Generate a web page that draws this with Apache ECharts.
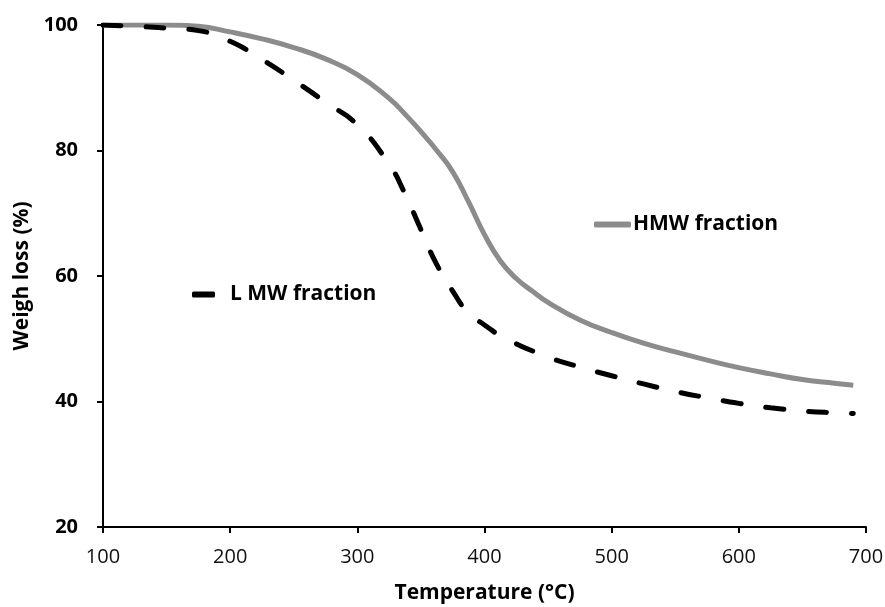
<!DOCTYPE html>
<html>
<head>
<meta charset="utf-8">
<script src="https://cdn.jsdelivr.net/npm/echarts@6/dist/echarts.min.js"></script>
<style>
  html, body { margin: 0; padding: 0; background: #fff; }
  #tga { width: 885px; height: 607px; }
</style>
</head>
<body>
<div id="tga"></div>
<script>
// temperature (°C) and weight (%)
const hmwTemp = [100, 125, 150, 175, 200, 225, 250, 275, 300, 325, 337.5, 350, 362.5, 375, 387.5, 400, 412.5, 425, 437.5, 450, 475, 500, 525, 550, 575, 600, 625, 650, 675, 690];
const hmwWeight = [100, 100, 100, 99.8, 98.9, 97.8, 96.4, 94.6, 92.1, 88.3, 85.8, 83.0, 80.0, 76.6, 71.8, 66.6, 62.4, 59.6, 57.6, 55.8, 53.0, 51.0, 49.3, 47.9, 46.6, 45.4, 44.4, 43.5, 42.9, 42.6];

const lmwTemp = [100, 125, 150, 175, 200, 225, 250, 275, 300, 325, 337, 350, 362, 375, 387, 400, 416, 450, 475, 500, 525, 550, 575, 600, 625, 650, 675, 690];
const lmwWeight = [100, 99.8, 99.5, 99.1, 97.4, 94.5, 91.2, 87.7, 84.1, 77.8, 73.3, 67.4, 62.0, 57.6, 54.2, 52.2, 50.1, 47.1, 45.5, 44.1, 42.8, 41.6, 40.6, 39.7, 39.0, 38.5, 38.2, 38.1];

const xTicks = { min: 100, max: 700, step: 100 };
const yTicks = { min: 20, max: 100, step: 20 };

function pairs(xs, ys) {
  return xs.map((x, i) => [x, ys[i]]);
}

const chart = echarts.init(document.getElementById('tga'));

const axisFont = 'Open Sans';

chart.setOption({
  animation: false,
  grid: { left: 103, right: 19, top: 25, bottom: 80, outerBoundsMode: 'none' },
  legend: [
    {
      data: ['HMW fraction'],
      left: 589,
      top: 209,
      icon: 'roundRect',
      itemWidth: 37,
      itemHeight: 6,
      selectedMode: false,
      textStyle: { color: '#000', fontWeight: 'bold', fontSize: 21, fontFamily: axisFont, padding: [0, 0, 0, -3] },
    },
    {
      data: ['L MW fraction'],
      left: 187,
      top: 279,
      icon: 'roundRect',
      itemWidth: 23,
      itemHeight: 6,
      selectedMode: false,
      textStyle: { color: '#000', fontWeight: 'bold', fontSize: 21, fontFamily: axisFont, padding: [0, 0, 0, 10] },
    },
  ],
  xAxis: {
    type: 'value',
    min: xTicks.min,
    max: xTicks.max,
    interval: xTicks.step,
    name: 'Temperature (°C)',
    nameLocation: 'middle',
    nameGap: 56,
    nameTextStyle: { color: '#000', fontWeight: 'bold', fontSize: 21, fontFamily: axisFont },
    splitLine: { show: false },
    axisLine: { lineStyle: { color: '#000', width: 2 } },
    axisTick: { length: 6, lineStyle: { color: '#000', width: 2 } },
    axisLabel: { color: '#111', fontSize: 20, fontFamily: axisFont, margin: 20 },
  },
  yAxis: {
    type: 'value',
    min: yTicks.min,
    max: yTicks.max,
    interval: yTicks.step,
    name: 'Weigh loss (%)',
    nameLocation: 'middle',
    nameGap: 70,
    nameTextStyle: { color: '#000', fontWeight: 'bold', fontSize: 21, fontFamily: axisFont },
    splitLine: { show: false },
    axisLine: { show: true, lineStyle: { color: '#000', width: 2 } },
    axisTick: { show: true, length: 6, lineStyle: { color: '#000', width: 2 } },
    axisLabel: { color: '#000', fontWeight: 'bold', fontSize: 20, fontFamily: axisFont, margin: 25 },
  },
  series: [
    {
      name: 'HMW fraction',
      type: 'line',
      data: pairs(hmwTemp, hmwWeight),
      smooth: 0.5,
      showSymbol: false,
      color: '#8c8c8c',
      lineStyle: { color: '#8c8c8c', width: 5 },
    },
    {
      name: 'L MW fraction',
      type: 'line',
      data: pairs(lmwTemp, lmwWeight),
      smooth: 0.5,
      showSymbol: false,
      color: '#000',
      lineStyle: { color: '#000', width: 5, type: [18, 25], cap: 'round' },
    },
  ],
});
</script>
</body>
</html>
